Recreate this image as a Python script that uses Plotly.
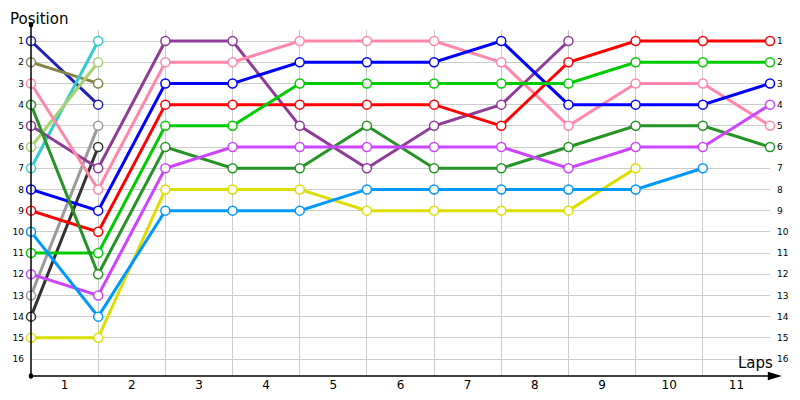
import plotly.graph_objects as go

# lap chart: position of every car at each lap boundary (0 = start)
laps = list(range(0, 12))
lap_labels = [str(i) for i in range(1, 12)]
positions = list(range(1, 17))

N = None
navy = [1, 4, N, N, N, N, N, N, N, N, N, N]
olive = [2, 3, N, N, N, N, N, N, N, N, N, N]
cyan = [7, 1, N, N, N, N, N, N, N, N, N, N]
lightgreen = [6, 2, N, N, N, N, N, N, N, N, N, N]
gray = [13, 5, N, N, N, N, N, N, N, N, N, N]
black = [14, 6, N, N, N, N, N, N, N, N, N, N]
purple = [5, 7, 1, 1, 5, 7, 5, 4, 1, N, N, N]
pink = [3, 8, 2, 2, 1, 1, 1, 2, 5, 3, 3, 5]
blue = [8, 9, 3, 3, 2, 2, 2, 1, 4, 4, 4, 3]
red = [9, 10, 4, 4, 4, 4, 4, 5, 2, 1, 1, 1]
green = [11, 11, 5, 5, 3, 3, 3, 3, 3, 2, 2, 2]
darkgreen = [4, 12, 6, 7, 7, 5, 7, 7, 6, 5, 5, 6]
magenta = [12, 13, 7, 6, 6, 6, 6, 6, 7, 6, 6, 4]
yellow = [15, 15, 8, 8, 8, 9, 9, 9, 9, 7, N, N]
lightblue = [10, 14, 9, 9, 9, 8, 8, 8, 8, 8, 7, N]

series = [
    (navy, "#2020B8"), (olive, "#85854A"), (cyan, "#33CCCC"),
    (lightgreen, "#A8D070"), (gray, "#9A9A9A"), (black, "#333333"),
    (purple, "#8E3C97"), (pink, "#FF88AA"), (blue, "#0000FF"),
    (red, "#FF0000"), (green, "#00CC00"), (darkgreen, "#259425"),
    (magenta, "#CC44FF"), (yellow, "#DDDD00"), (lightblue, "#0099FF"),
]

fig = go.Figure()
for vals, col in series:
    fig.add_trace(go.Scatter(
        x=laps, y=vals, mode="lines+markers",
        line=dict(color=col, width=3),
        marker=dict(size=9, color="white", line=dict(color=col, width=1.5)),
        showlegend=False, cliponaxis=False))

# invisible trace to carry the right-hand position labels
fig.add_trace(go.Scatter(x=[0], y=[1], yaxis="y2", mode="markers",
                         marker=dict(opacity=0), showlegend=False, hoverinfo="skip"))

font = dict(family="DejaVu Sans", size=9, color="black")
yr = [16.8, 0.48]
# page body adds 8px, so the figure is 8px smaller each way
fig.update_layout(
    width=792, height=392,
    margin=dict(l=23, r=30, t=22, b=24),
    plot_bgcolor="white", paper_bgcolor="white",
    xaxis=dict(range=[0, 11], tickvals=[i + 0.5 for i in range(11)], ticktext=lap_labels,
               showgrid=False, zeroline=False, showline=False, ticks="", automargin=False,
               tickfont=dict(family="DejaVu Sans", size=12, color="black"),
               minor=dict(tickvals=laps[1:], showgrid=True, gridcolor="#CCCCCC", gridwidth=1)),
    yaxis=dict(range=yr, tickvals=positions, ticktext=[str(p) for p in positions],
               showgrid=True, gridcolor="#CCCCCC", gridwidth=1, zeroline=False, automargin=False,
               showline=False, ticks="", tickfont=font, ticklabelstandoff=6),
    yaxis2=dict(range=yr, overlaying="y", side="right", tickvals=positions, automargin=False,
                ticktext=[str(p) for p in positions], showgrid=False, zeroline=False,
                showline=False, ticks="", tickfont=font, ticklabelstandoff=6),
    shapes=[
        # left axis, running up past the plot with a dot on top
        dict(type="line", xref="paper", yref="paper", x0=0, x1=0, y0=0, y1=1.015,
             line=dict(color="black", width=1.5)),
        dict(type="circle", xref="paper", yref="paper", x0=-0.003, x1=0.003, y0=1.007, y1=1.023,
             fillcolor="black", line=dict(color="black", width=0)),
        # bottom axis with arrow head
        dict(type="line", xref="paper", yref="paper", x0=0, x1=1.01, y0=0, y1=0,
             line=dict(color="black", width=1.5)),
        dict(type="path", xref="paper", yref="paper",
             path="M 0.997 0.012 L 1.016 0 L 0.997 -0.012 Z",
             fillcolor="black", line=dict(color="black", width=0)),
        dict(type="circle", xref="paper", yref="paper", x0=-0.003, x1=0.003, y0=-0.008, y1=0.008,
             fillcolor="black", line=dict(color="black", width=0)),
    ],
    annotations=[
        dict(text="Position", xref="paper", yref="paper", x=-0.031, y=1.0,
             xanchor="left", yanchor="bottom", showarrow=False,
             font=dict(family="DejaVu Sans", size=15, color="black")),
        dict(text="Laps", xref="paper", yref="paper", x=1.007, y=0.006,
             xanchor="right", yanchor="bottom", showarrow=False,
             font=dict(family="DejaVu Sans", size=15, color="black")),
    ],
)

fig.write_html("out.html")
